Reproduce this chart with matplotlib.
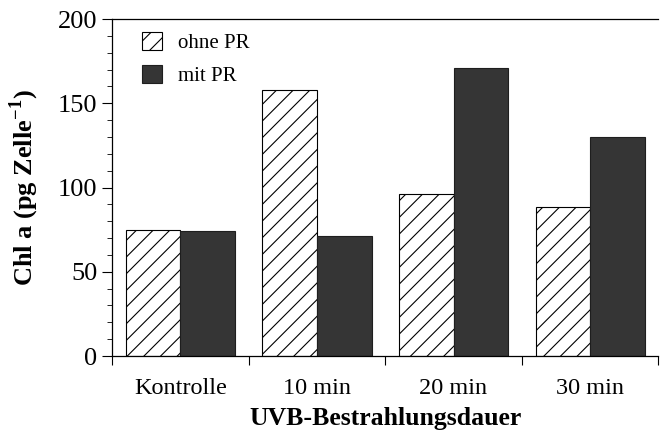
import matplotlib
matplotlib.use("Agg")
import matplotlib.pyplot as plt
import numpy as np

categories = ["Kontrolle", "10 min", "20 min", "30 min"]
ohne_pr = [75, 158, 96, 88.5]
mit_pr = [74, 71, 171, 130]
yticks = [0, 50, 100, 150, 200]

plt.rcParams['font.family'] = ['Liberation Serif', 'DejaVu Serif']
plt.rcParams['mathtext.fontset'] = 'custom'
plt.rcParams['mathtext.rm'] = 'Liberation Serif'
plt.rcParams['mathtext.bf'] = 'Liberation Serif:bold'
plt.rcParams['hatch.linewidth'] = 0.8

fig = plt.figure(figsize=(6.6, 4.34), dpi=100)
ax = fig.add_axes([0.1697, 0.1797, 0.828, 0.7765])

x = np.arange(len(categories)) + 0.5
w = 0.4
ax.bar(x - w/2, ohne_pr, w, facecolor='white', edgecolor='black', hatch='//', linewidth=0.8, label='ohne PR')
ax.bar(x + w/2, mit_pr, w, facecolor='#353535', edgecolor='#1e1e1e', linewidth=0.8, label='mit PR')

ax.set_xlim(0, 4)
ax.set_ylim(0, 200)
ax.set_yticks(yticks)
ax.set_yticks(np.arange(0, 201, 10), minor=True)
ax.set_xticks(np.arange(0, 5))
ax.set_xticklabels([])
ax.set_xticks(x, minor=True)
ax.set_xticklabels(categories, minor=True)
ax.tick_params(axis='x', which='minor', length=0, labelsize=17.5, pad=15.5)
ax.tick_params(axis='x', which='major', length=6.5, direction='out')
ax.tick_params(axis='y', which='major', length=7, direction='out', labelsize=19, pad=3.5)
ax.tick_params(axis='y', which='minor', length=3.5, direction='out')
ax.spines['right'].set_visible(False)
for s in ['left', 'bottom', 'top']:
    ax.spines[s].set_linewidth(0.9)

ax.set_xlabel("UVB-Bestrahlungsdauer", fontsize=18.5, fontweight='bold', labelpad=6)
ax.set_ylabel("Chl a (pg Zelle$^{\\mathbf{-1}}$)", fontsize=19, fontweight='bold', labelpad=12)

leg = ax.legend(loc='upper left', bbox_to_anchor=(0.0547, 0.962), frameon=False, fontsize=15,
                handlelength=0.96, handleheight=1.0, handletextpad=0.77, labelspacing=0.55,
                borderpad=0, borderaxespad=0)

fig.savefig("out.png", dpi=100)
